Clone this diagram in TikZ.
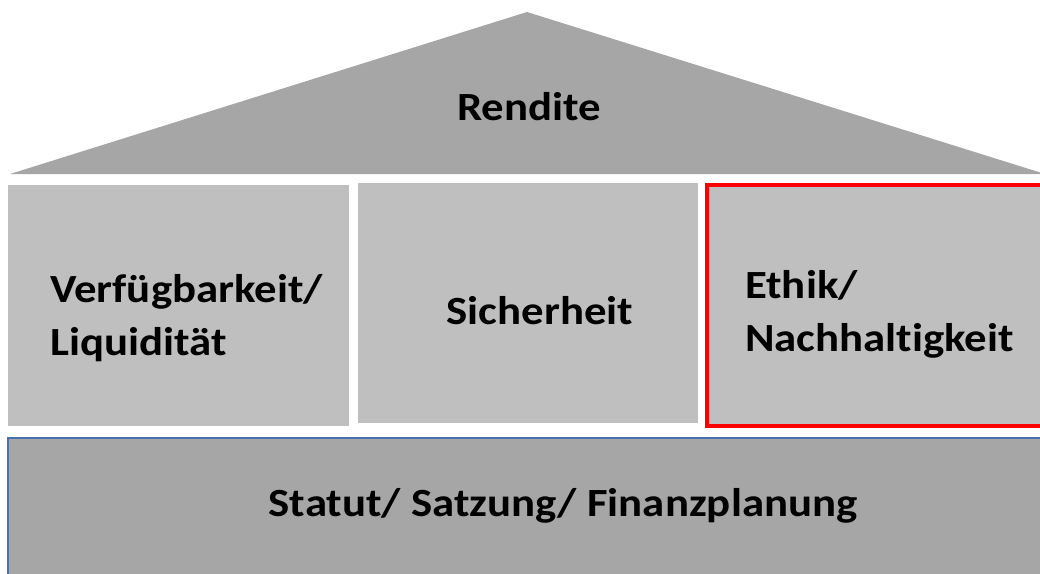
\documentclass[tikz,border=0pt]{standalone}
\usepackage{fontspec}
\setmainfont{Carlito}[FakeStretch=1.12, Ligatures=NoCommon]
\definecolor{roofgray}{HTML}{A6A6A6}
\definecolor{pillargray}{HTML}{BFBFBF}
\definecolor{basegray}{HTML}{A6A6A6}
\definecolor{baseblue}{HTML}{4A6FAE}
\definecolor{hired}{HTML}{FF0000}
\tikzset{
  pillar/.style={rectangle, fill=pillargray, draw=none, inner sep=0pt},
  lbl/.style={inner sep=0pt, font=\fontsize{40}{53}\selectfont\bfseries, text=black},
}
\begin{document}
\begin{tikzpicture}[x=1pt,y=-1pt]
\useasboundingbox (0,0) rectangle (1040,573);
\clip (0,0) rectangle (1040,573);
% roof
\fill[roofgray] (10,174) -- (527,12) -- (1045,174) -- cycle;
\node[lbl, anchor=base] (rendite) at (529,120) {Rendite};
% pillars
\node[pillar, minimum width=341pt, minimum height=241pt] (p1) at (178.5,305.5) {};
\node[pillar, minimum width=340pt, minimum height=240pt] (p2) at (528,303) {};
\node[pillar, minimum width=343pt, minimum height=241pt, draw=hired, line width=4pt] (p3) at (878.5,305.5) {};
\node[lbl, anchor=base west, align=left] (t1) at (50,355) {Verfügbarkeit/\\Liquidität};
\node[lbl, anchor=base] (t2) at (540,324) {Sicherheit};
\node[lbl, anchor=base west, align=left] (t3) at (745,351) {Ethik/\\Nachhaltigkeit};
% base
\node[rectangle, fill=basegray, draw=baseblue, line width=1.5pt, minimum width=1110pt, minimum height=170pt, inner sep=0pt] (base) at (563,523) {};
\node[lbl, anchor=base] (t4) at (563,516) {Statut/ Satzung/ Finanzplanung};
\end{tikzpicture}
\end{document}
